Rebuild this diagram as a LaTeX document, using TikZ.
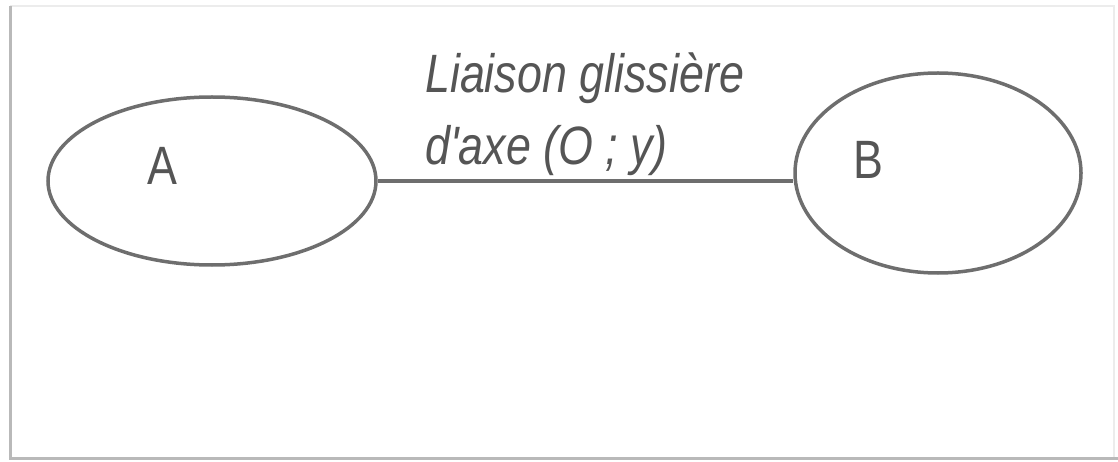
\documentclass[tikz,border=0pt]{standalone}
\usepackage{fontspec}
\usetikzlibrary{shapes.geometric}
\newfontfamily\labfont[FakeStretch=0.83]{Liberation Sans}
\definecolor{inkgray}{HTML}{6E6E6E}
\definecolor{txtgray}{HTML}{555555}
\tikzset{
  part/.style={ellipse, draw=inkgray, line width=3.5pt, inner sep=0pt},
  letter/.style={font=\labfont\fontsize{54}{60}\selectfont, text=txtgray, inner sep=0pt},
  link/.style={draw=inkgray, line width=4pt},
  caption/.style={font=\labfont\itshape\fontsize{54}{72}\selectfont, text=txtgray, align=left, inner sep=0pt}
}
\begin{document}
\begin{tikzpicture}[x=1pt,y=-1pt]
\useasboundingbox (0,0) rectangle (1118,462);
% frame
\draw[gray!15, line width=2pt] (10,6) -- (1114,6) -- (1114,458);
\draw[gray!55, line width=3pt] (10,6) -- (10,458) -- (1118,458);
% parts
\node[part, minimum width=328pt, minimum height=168pt] (A) at (212,181) {};
\node[part, minimum width=286pt, minimum height=200pt] (B) at (938,173) {};
\node[letter] (la) at (162,166) {A};
\node[letter] (lb) at (868,160) {B};
% link
\coordinate (Bend) at (A.east -| B.west);
\draw[link] (A.east) -- (Bend);
\node[caption, anchor=base west] (cap) at (425,165) {Liaison glissière\\d'axe (O ; y)};
\end{tikzpicture}
\end{document}
